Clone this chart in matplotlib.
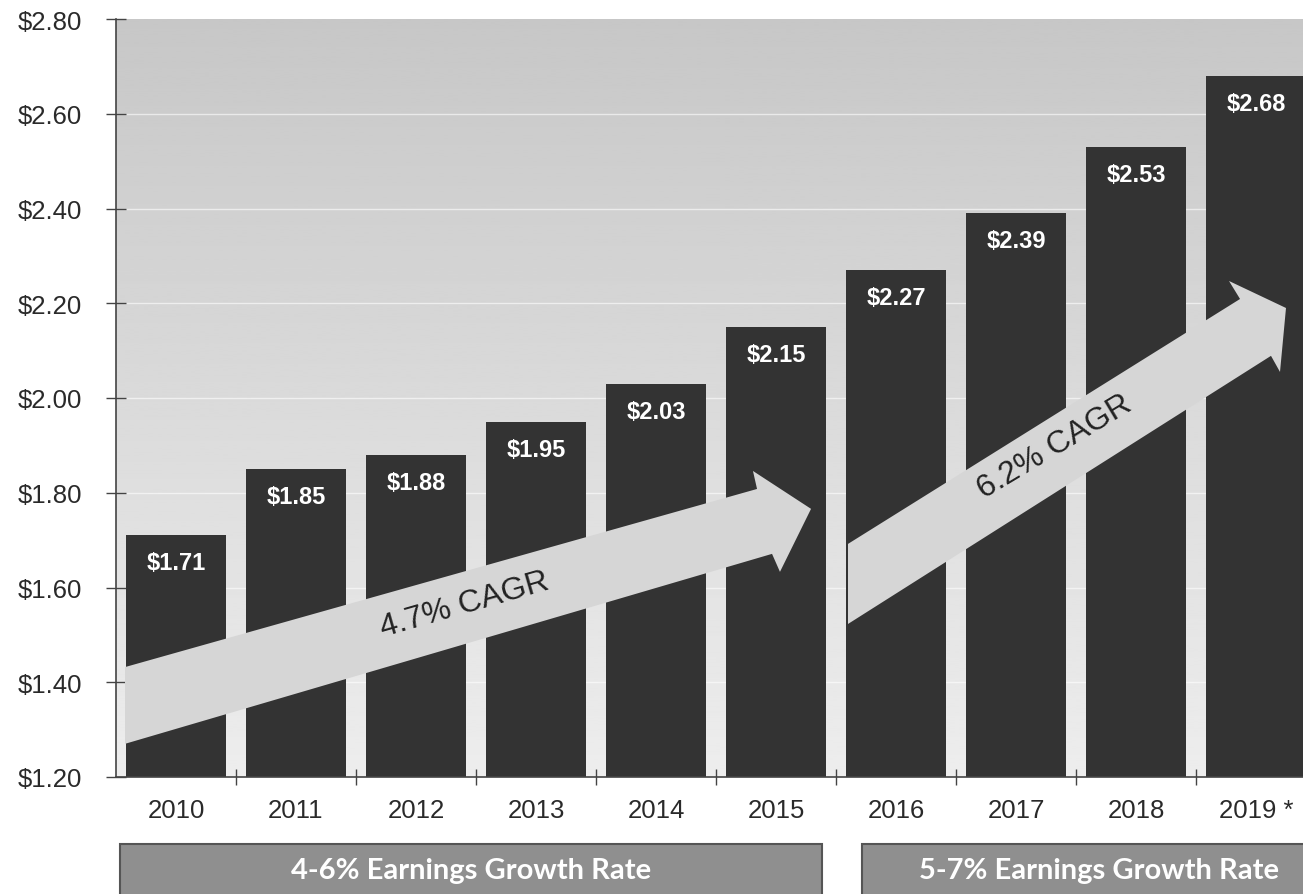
import numpy as np
import matplotlib
matplotlib.use("Agg")
import matplotlib.pyplot as plt
from matplotlib.patches import Polygon, Rectangle
from matplotlib.transforms import blended_transform_factory

# datos del grafico
years = ['2010', '2011', '2012', '2013', '2014', '2015', '2016', '2017', '2018', '2019 *']
eps = [1.71, 1.85, 1.88, 1.95, 2.03, 2.15, 2.27, 2.39, 2.53, 2.68]
y_ticks = [1.20, 1.40, 1.60, 1.80, 2.00, 2.20, 2.40, 2.60, 2.80]
cagr_labels = ['4.7% CAGR', '6.2% CAGR']
growth_labels = ['4-6% Earnings Growth Rate', '5-7% Earnings Growth Rate']

plt.rcParams['font.family'] = ['Liberation Sans', 'DejaVu Sans']

fig = plt.figure(figsize=(13.03, 8.95), dpi=100)
ax = fig.add_axes([116 / 1303, 117 / 895, 1200 / 1303, 758 / 895])

x = np.arange(len(years))
ax.set_xlim(-0.5, len(years) - 0.5)
ax.set_ylim(y_ticks[0], y_ticks[-1])

# fondo degradado gris
grad = np.linspace(0.93, 0.78, 256).reshape(-1, 1)
ax.imshow(grad, cmap='gray', vmin=0, vmax=1, aspect='auto',
          extent=[0, 1, 0, 1], transform=ax.transAxes, origin='lower', zorder=0)

for t in y_ticks[1:-1]:
    ax.axhline(t, color='white', lw=1.0, alpha=0.6, zorder=1)

bars = ax.bar(x, eps, width=0.83, bottom=0, color='#333333', zorder=2)

for xi, v in zip(x, eps):
    ax.text(xi, v - 0.058, f'${v:.2f}', ha='center', va='center', color='white',
            fontsize=17, fontweight='bold', zorder=5)

# flechas CAGR (coordenadas de datos)
arrow1 = [(-0.425, 1.432), (4.842, 1.808), (4.808, 1.846), (5.292, 1.766),
          (5.033, 1.633), (4.967, 1.671), (-0.425, 1.270)]
arrow2 = [(5.6, 1.692), (8.867, 2.209), (8.775, 2.247), (9.25, 2.190),
          (9.2, 2.055), (9.125, 2.089), (5.6, 1.523)]
for pts in (arrow1, arrow2):
    ax.add_patch(Polygon(pts, closed=True, facecolor='#d6d6d6', edgecolor='none', zorder=3))

ax.text(2.408, 1.565, cagr_labels[0], rotation=16, ha='center', va='center',
        fontsize=23, color='#222222', rotation_mode='anchor', zorder=4)
ax.text(7.325, 1.899, cagr_labels[1], rotation=31, ha='center', va='center',
        fontsize=23, color='#222222', rotation_mode='anchor', zorder=4)

# ejes
ax.set_yticks(y_ticks)
ax.set_yticklabels([f'${t:.2f}' for t in y_ticks])
ax.set_xticks(x[:-1] + 0.5)
ax.set_xticklabels([])
ax.set_xticks(x, minor=True)
ax.set_xticklabels(years, minor=True)
ax.tick_params(axis='y', direction='inout', length=15, width=1, color='#444444',
               labelsize=18.5, labelcolor='#2a2a2a', pad=17)
ax.tick_params(axis='x', which='major', direction='inout', length=12, width=1, color='#444444')
ax.tick_params(axis='x', which='minor', length=0, labelsize=18.5, labelcolor='#2a2a2a', pad=15)
for s in ['top', 'right']:
    ax.spines[s].set_visible(False)
for s in ['left', 'bottom']:
    ax.spines[s].set_color('#444444')
    ax.spines[s].set_linewidth(1.2)

# cajas de tasa de crecimiento
trans = blended_transform_factory(ax.transData, fig.transFigure)
boxes = [(-0.467, 5.383), (5.717, 9.8)]
text_x = [(-0.467 + 5.383) / 2, (5.717 + 9.66) / 2]
for (x0, x1), tx, label in zip(boxes, text_x, growth_labels):
    fig.add_artist(Rectangle((x0, -0.02), x1 - x0, 0.0759, transform=trans,
                             facecolor='#8f8f8f', edgecolor='#555555', lw=1.5,
                             clip_on=False))
    fig.text(tx, 0.027, label, transform=trans, ha='center', va='center', color='white',
             fontsize=21, fontweight='bold', family=['Lato', 'DejaVu Sans'])

fig.savefig('out.png', dpi=100)
